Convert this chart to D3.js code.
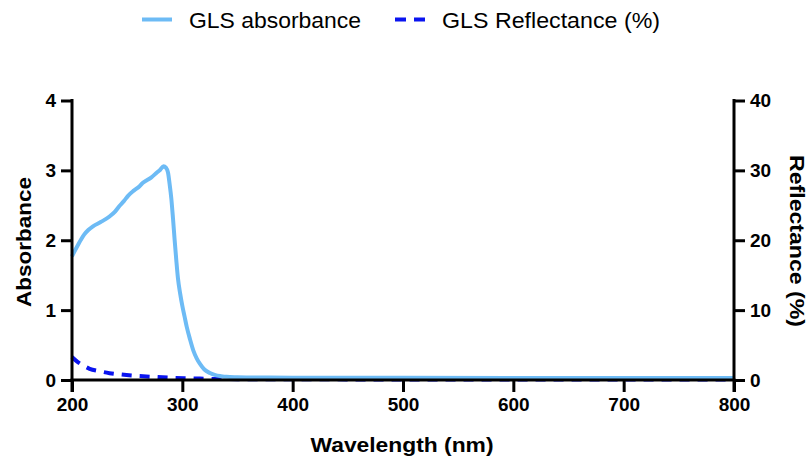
<!DOCTYPE html>
<html><head><meta charset="utf-8">
<script src="https://cdn.jsdelivr.net/npm/d3@7"></script>
<style>body{margin:0;background:#fff}svg{display:block}text{font-family:"Liberation Sans",Arial,sans-serif}</style>
</head><body><svg id="c" width="809" height="459"></svg>
<script>
const absWl  = [200,205,211,215,219,226,234,239,243,247,251,256,261,264,268,272,277,280,283,285,287,288.5,290,291.5,293,294.5,296,298,300,302,304,307,310,313,316,320,325,330,335,340,350,370,400,450,500,600,700,800];
const absVal = [1.77,1.92,2.08,2.15,2.20,2.26,2.34,2.41,2.49,2.56,2.64,2.71,2.77,2.82,2.86,2.90,2.97,3.01,3.06,3.04,2.97,2.80,2.60,2.32,2.01,1.72,1.46,1.24,1.06,0.91,0.76,0.58,0.42,0.31,0.23,0.15,0.10,0.07,0.055,0.045,0.04,0.035,0.033,0.032,0.031,0.03,0.03,0.03];
const refWl  = [200,205,210,216,225,234,245,258,275,291,305,316,330,350,400,500,600,700,800];
const refVal = [3.3,2.6,2.1,1.6,1.25,0.98,0.78,0.6,0.44,0.32,0.25,0.2,0.15,0.12,0.1,0.08,0.07,0.07,0.07];
const xTicks = [200,300,400,500,600,700,800];
const yTicks = [0,1,2,3,4];
const y2Ticks = [0,10,20,30,40];

const svg = d3.select("#c");
const x = d3.scaleLinear().domain([200,800]).range([72,734]);
const y = d3.scaleLinear().domain([0,4]).range([380,100.5]);
const y2 = d3.scaleLinear().domain([0,40]).range([380,100.5]);

const lightBlue = "#6dbbf5", darkBlue = "#0a14f0";
// lines
const lineAbs = d3.line().x((d,i)=>x(absWl[i])).y(d=>y(d)).curve(d3.curveMonotoneX);
const lineRef = d3.line().x((d,i)=>x(refWl[i])).y(d=>y2(d)).curve(d3.curveMonotoneX);
svg.append("path").attr("d",lineRef(refVal)).attr("fill","none").attr("stroke",darkBlue).attr("stroke-width",4).attr("stroke-dasharray","10,8");
svg.append("path").attr("d",lineAbs(absVal)).attr("fill","none").attr("stroke",lightBlue).attr("stroke-width",4).attr("stroke-linejoin","round");

// axes
const fontTick = "bold 19px 'Liberation Sans', Arial, sans-serif";
function styleAxis(g){
  g.selectAll(".domain").remove();
  g.selectAll(".tick line").attr("stroke","#000").attr("stroke-width",3);
  g.selectAll(".tick text").attr("fill","#000").style("font",fontTick);
}
const gx = svg.append("g").attr("transform","translate(0,380)")
  .call(d3.axisBottom(x).tickValues(xTicks).tickSize(12).tickPadding(6).tickFormat(d3.format("d")));
styleAxis(gx);
const gy = svg.append("g").attr("transform","translate(72,0)")
  .call(d3.axisLeft(y).tickValues(yTicks).tickSize(11).tickPadding(5).tickFormat(d3.format("d")));
styleAxis(gy);
const gy2 = svg.append("g").attr("transform","translate(734,0)")
  .call(d3.axisRight(y2).tickValues(y2Ticks).tickSize(11).tickPadding(5).tickFormat(d3.format("d")));
styleAxis(gy2);
// axis lines
svg.append("line").attr("x1",70.5).attr("x2",735.5).attr("y1",380).attr("y2",380).attr("stroke","#000").attr("stroke-width",3);
svg.append("line").attr("x1",72).attr("x2",72).attr("y1",99).attr("y2",392).attr("stroke","#000").attr("stroke-width",3);
svg.append("line").attr("x1",734).attr("x2",734).attr("y1",99).attr("y2",392).attr("stroke","#000").attr("stroke-width",3);

// titles
const fontTitle = "bold 21px 'Liberation Sans', Arial, sans-serif";
svg.append("text").attr("x",402).attr("y",452).attr("text-anchor","middle")
  .style("font",fontTitle).attr("textLength",183).attr("lengthAdjust","spacingAndGlyphs").text("Wavelength (nm)");
svg.append("text").attr("transform","translate(31,242) rotate(-90)").attr("text-anchor","middle")
  .style("font",fontTitle).attr("textLength",130).attr("lengthAdjust","spacingAndGlyphs").text("Absorbance");
svg.append("text").attr("transform","translate(790,241) rotate(90)").attr("text-anchor","middle")
  .style("font",fontTitle).attr("textLength",172).attr("lengthAdjust","spacingAndGlyphs").text("Reflectance (%)");

// legend
const fontLeg = "22px 'Liberation Sans', Arial, sans-serif";
const legend = svg.append("g");
legend.append("line").attr("x1",142).attr("x2",172).attr("y1",19.5).attr("y2",19.5).attr("stroke",lightBlue).attr("stroke-width",4);
legend.append("text").attr("x",189).attr("y",28).style("font",fontLeg)
  .attr("textLength",172).attr("lengthAdjust","spacingAndGlyphs").text("GLS absorbance");
legend.append("line").attr("x1",395).attr("x2",425).attr("y1",19.5).attr("y2",19.5).attr("stroke",darkBlue).attr("stroke-width",4).attr("stroke-dasharray","11,8");
legend.append("text").attr("x",442).attr("y",28).style("font",fontLeg)
  .attr("textLength",218).attr("lengthAdjust","spacingAndGlyphs").text("GLS Reflectance (%)");
</script></body></html>
